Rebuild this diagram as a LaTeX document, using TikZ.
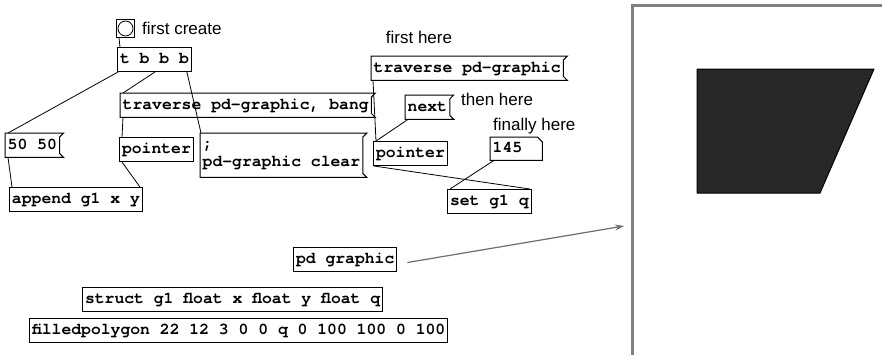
\documentclass[tikz,border=0pt]{standalone}
\usepackage{fontspec}
\setmainfont{Liberation Sans}
\newfontfamily\pdmono{TeX Gyre Cursor}
\usetikzlibrary{arrows.meta}
\definecolor{framegray}{RGB}{128,128,128}
\definecolor{arrowgray}{RGB}{110,110,110}
\definecolor{fillgray}{RGB}{40,40,40}
\tikzset{
  pdbox/.style={anchor=north west, inner xsep=2.5pt, inner ysep=0pt,
    minimum height=24pt, font=\pdmono\bfseries\fontsize{16.4}{18}\selectfont,
    text height=11pt, text depth=3pt},
  objbox/.style={pdbox, draw, line width=1pt},
  msgbox/.style={pdbox},
  note/.style={anchor=west, inner sep=0pt, font=\fontsize{17}{19}\selectfont},
  wire/.style={line width=0.8pt},
  boxline/.style={line width=1pt}
}
\newcommand{\msgframe}[1]{\draw[boxline] (#1.north west) -- ([xshift=4pt]#1.north east) -- ([yshift=-4pt]#1.north east) -- ([yshift=4pt]#1.south east) -- ([xshift=4pt]#1.south east) -- (#1.south west) -- cycle;}
\begin{document}
\begin{tikzpicture}[x=1pt,y=-1pt]
\useasboundingbox[fill=white] (0,0) rectangle (882,359);

% bang
\node[draw, boxline, anchor=north west, minimum width=18pt, minimum height=18pt, inner sep=0pt] (bang) at (116,19) {};
\draw[line width=0.8pt] (bang.center) circle (7.5pt);
\node[note] (tcreate) at (142,28) {first create};

% left patch
\node[objbox] (tbbb) at (117,47) {t b b b};
\node[msgbox] (trav1) at (120,93) {traverse pd-graphic, bang};
\msgframe{trav1}
\node[msgbox] (m50) at (5,133) {50 50};
\msgframe{m50}
\node[objbox] (ptr1) at (119,137) {pointer};
\node[msgbox, align=left, minimum height=44pt, text height=, text depth=] (clear) at (200,133) {;\\pd-graphic clear};
\msgframe{clear}
\node[objbox] (append) at (9,187) {append g1 x y};

% right patch
\node[note, anchor=center] (tfirst) at (419,37) {first here};
\node[msgbox] (trav2) at (371,56) {traverse pd-graphic};
\msgframe{trav2}
\node[msgbox] (next) at (405,95) {next};
\msgframe{next}
\node[note] (tthen) at (461,99) {then here};
\node[note] (tfinal) at (493,126) {finally here};
\node[objbox] (ptr2) at (373,141) {pointer};
\node[pdbox, minimum width=52pt, minimum height=23pt, text width=47pt, align=left] (num) at (490,137) {145};
\draw[boxline] (num.north west) -- ([xshift=-5pt]num.north east) -- ([yshift=-5pt]num.north east) -- (num.south east) -- (num.south west) -- cycle;
\node[objbox] (setq) at (447,189) {set g1 q};

% bottom
\node[objbox] (pdg) at (293,247) {pd graphic};
\node[objbox] (struct) at (82,287) {struct g1 float x float y float q};
\node[objbox] (fpoly) at (29,318) {filledpolygon 22 12 3 0 0 q 0 100 100 0 100};

% wires
\draw[wire] ([xshift=3pt]bang.south west) -- ([xshift=3pt]tbbb.north west);
\draw[wire] ([xshift=1pt]tbbb.south west) -- ([xshift=3pt]m50.north west);
\draw[wire] ([xshift=38pt]tbbb.south west) -- ([xshift=3pt]trav1.north west);
\draw[wire] ([xshift=-5pt]tbbb.south east) -- ([xshift=1pt]clear.north west);
\draw[wire] ([xshift=3pt]trav1.south west) -- ([xshift=3pt]ptr1.north west);
\draw[wire] ([xshift=3pt]ptr1.south west) -- ([xshift=-3pt]append.north east);
\draw[wire] ([xshift=3pt]m50.south west) -- ([xshift=3pt]append.north west);
\draw[wire] ([xshift=2pt]trav2.south west) -- ([xshift=3pt]ptr2.north west);
\draw[wire] ([xshift=3pt]next.south west) -- ([xshift=3pt]ptr2.north west);
\draw[wire] ([xshift=1pt]ptr2.south west) -- ([xshift=-2pt]setq.north east);
\draw[wire] ([xshift=4pt]num.south west) -- ([xshift=3pt]setq.north west);

% canvas window
\coordinate (winTL) at (632,5);
\coordinate (winBL) at (632,355);
\coordinate (winTR) at (882,5);
\draw[framegray, line width=3pt] (winBL) -- (winTL) -- (winTR);
\coordinate (arrEnd) at (624,226);
\draw[arrowgray, line width=1.2pt, -{Stealth[length=9pt,width=6pt]}] ([xshift=10pt,yshift=-3pt]pdg.east) -- (arrEnd);

% filled polygon
\fill[fillgray] (697,69) -- (874,69) -- (820,193) -- (697,193) -- cycle;
\draw[black, line width=1pt, line join=round] (697,69) -- (874,69) -- (820,193) -- (697,193) -- cycle;
\end{tikzpicture}
\end{document}
